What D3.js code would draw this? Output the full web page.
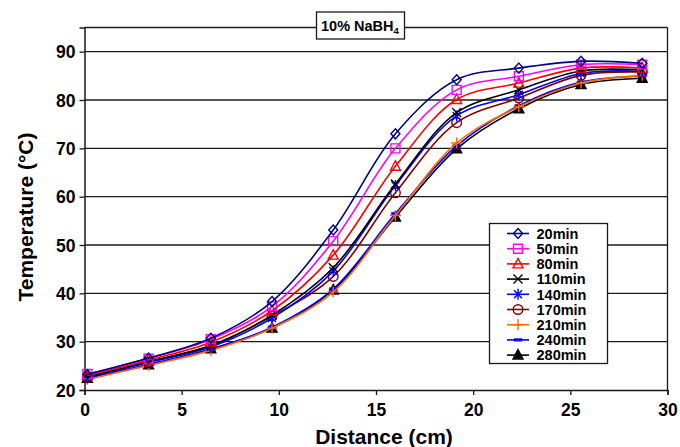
<!DOCTYPE html>
<html><head><meta charset="utf-8">
<script src="https://cdn.jsdelivr.net/npm/d3@7"></script>
<style>body{margin:0;background:#fff}svg{display:block}text{font-family:"Liberation Sans",Arial,sans-serif;font-weight:bold;fill:#000}</style>
</head><body>
<script>
const distance = [0.15, 3.3, 6.5, 9.65, 12.8, 16.0, 19.15, 22.35, 25.55, 28.7];
const seriesNames = ["20min","50min","80min","110min","140min","170min","210min","240min","280min"];
const t20  = [23.2, 26.6, 30.7, 38.3, 53.1, 73.0, 84.2, 86.6, 88.0, 87.6];
const t50  = [23.3, 26.5, 30.5, 37.3, 50.8, 70.0, 82.1, 84.9, 87.3, 87.3];
const t80  = [23.0, 26.2, 29.9, 36.4, 47.9, 66.3, 80.1, 83.5, 86.6, 86.6];
const t110 = [22.7, 25.9, 29.2, 35.5, 45.3, 62.6, 77.4, 82.1, 86.0, 86.2];
const t140 = [22.5, 25.7, 28.9, 34.9, 44.6, 62.3, 76.7, 81.1, 85.5, 85.9];
const t170 = [22.6, 25.8, 29.2, 35.3, 43.5, 60.8, 75.3, 80.4, 85.1, 85.8];
const t210 = [22.2, 25.1, 28.2, 32.8, 40.3, 56.1, 71.1, 78.6, 83.5, 85.1];
const t240 = [22.3, 25.3, 28.4, 33.0, 40.9, 56.5, 70.5, 78.8, 83.7, 84.9];
const t280 = [22.4, 25.2, 28.5, 32.8, 40.7, 55.8, 69.9, 78.2, 83.2, 84.5];
const seriesValues = [t20, t50, t80, t110, t140, t170, t210, t240, t280];
const xTicks = [0, 5, 10, 15, 20, 25, 30];
const yTicks = [20, 30, 40, 50, 60, 70, 80, 90];

const colors  = ["#000080","#FF00FF","#FF0000","#000000","#0000FF","#800000","#FF6600","#0000FF","#000000"];
const markers = ["diamond","square","triangle","x","star","circle","plus","dash","filltri"];

const W = 680, H = 447;
const svg = d3.select("body").append("svg").attr("width", W).attr("height", H);
const x = d3.scaleLinear().domain([0, 30]).range([84.5, 667.5]);
const y = d3.scaleLinear().domain([20, 95]).range([390, 27.5]);

// gridlines
svg.append("g").selectAll("line").data(yTicks.filter(d => d > 20)).join("line")
  .attr("x1", x(0)).attr("x2", x(30)).attr("y1", d => y(d)).attr("y2", d => y(d))
  .attr("stroke", "#1a1a1a").attr("stroke-width", 1.3);
// frame top & right
svg.append("line").attr("x1", x(0)).attr("x2", x(30)).attr("y1", y(95)).attr("y2", y(95)).attr("stroke", "#1a1a1a").attr("stroke-width", 1.3);
svg.append("line").attr("x1", x(30)).attr("x2", x(30)).attr("y1", y(95)).attr("y2", y(20)).attr("stroke", "#1a1a1a").attr("stroke-width", 1.3);

// axes
const xAxis = svg.append("g").attr("transform", `translate(0,${y(20)})`)
  .call(d3.axisBottom(x).tickValues(xTicks).tickSize(5).tickPadding(4));
const yAxis = svg.append("g").attr("transform", `translate(${x(0)},0)`)
  .call(d3.axisLeft(y).tickValues(yTicks).tickSize(5).tickPadding(4));
[xAxis, yAxis].forEach(a => {
  a.select(".domain").attr("stroke", "#1a1a1a").attr("stroke-width", 1.5);
  a.selectAll(".tick line").attr("stroke", "#1a1a1a").attr("stroke-width", 1.3);
  a.selectAll("text").attr("font-size", 17.5).attr("font-family", '"Liberation Sans",Arial,sans-serif').attr("font-weight", "bold").attr("fill", "#000");
});
xAxis.selectAll(".tick text").attr("dy", "0.95em");
yAxis.selectAll(".tick text").attr("dy", "0.36em");

// axis titles
svg.append("text").attr("x", 384).attr("y", 444).attr("text-anchor", "middle").attr("font-size", 21).text("Distance (cm)");
svg.append("text").attr("transform", "translate(33,217) rotate(-90)").attr("text-anchor", "middle").attr("font-size", 21).text("Temperature (°C)");

// marker shapes
function markerPath(type) {
  switch (type) {
    case "diamond": return "M0,-5L4.5,0L0,5L-4.5,0Z";
    case "square": return "M-4.5,-4.5H4.5V4.5H-4.5Z";
    case "triangle": case "filltri": return "M0,-5.5L5,4L-5,4Z";
    case "x": return "M-4.5,-4.5L4.5,4.5M-4.5,4.5L4.5,-4.5";
    case "star": return "M-4,-4L4,4M-4,4L4,-4M0,-5.5V5.5";
    case "plus": return "M-5.5,0H5.5M0,-5.5V5.5";
    case "dash": return "M-4,-1.3H4V1.3H-4Z";
    default: return null;
  }
}
function drawMarker(g, type, color) {
  if (type === "circle") {
    g.append("circle").attr("r", 4.8).attr("fill", "none").attr("stroke", color).attr("stroke-width", 1.4);
    return;
  }
  const filled = (type === "filltri" || type === "dash");
  g.append("path").attr("d", markerPath(type))
    .attr("fill", filled ? color : "none")
    .attr("stroke", color).attr("stroke-width", type === "dash" ? 0.5 : 1.4);
}

const line = d3.line().x(d => x(d[0])).y(d => y(d[1])).curve(d3.curveCatmullRom.alpha(0.5));

// draw series in reverse so early series are on top
for (let i = seriesValues.length - 1; i >= 0; i--) {
  const pts = distance.map((d, j) => [d, seriesValues[i][j]]);
  svg.append("path").attr("d", line(pts)).attr("fill", "none")
    .attr("stroke", colors[i]).attr("stroke-width", 1.6);
  pts.forEach(p => {
    const g = svg.append("g").attr("transform", `translate(${x(p[0])},${y(p[1])})`);
    drawMarker(g, markers[i], colors[i]);
  });
}

// legend
const lg = svg.append("g");
lg.append("rect").attr("x", 489.5).attr("y", 223.5).attr("width", 118).attr("height", 140)
  .attr("fill", "#fff").attr("stroke", "#1a1a1a").attr("stroke-width", 1.3);
seriesNames.forEach((n, i) => {
  const cy = 233.5 + i * 15.2;
  lg.append("line").attr("x1", 507).attr("x2", 529).attr("y1", cy).attr("y2", cy)
    .attr("stroke", colors[i]).attr("stroke-width", 1.6);
  const g = lg.append("g").attr("transform", `translate(518,${cy})`);
  drawMarker(g, markers[i], colors[i]);
  lg.append("text").attr("x", 536.5).attr("y", cy).attr("dy", "0.36em").attr("font-size", 14.5).text(n);
});

// title box
svg.append("rect").attr("x", 316.5).attr("y", 12).attr("width", 88).attr("height", 27)
  .attr("fill", "#fff").attr("stroke", "#1a1a1a").attr("stroke-width", 1.3);
const tt = svg.append("text").attr("x", 321).attr("y", 31).attr("font-size", 14.5);
tt.append("tspan").text("10% NaBH");
tt.append("tspan").attr("font-size", 9.5).attr("dy", 3).text("4");
</script>
</body></html>
